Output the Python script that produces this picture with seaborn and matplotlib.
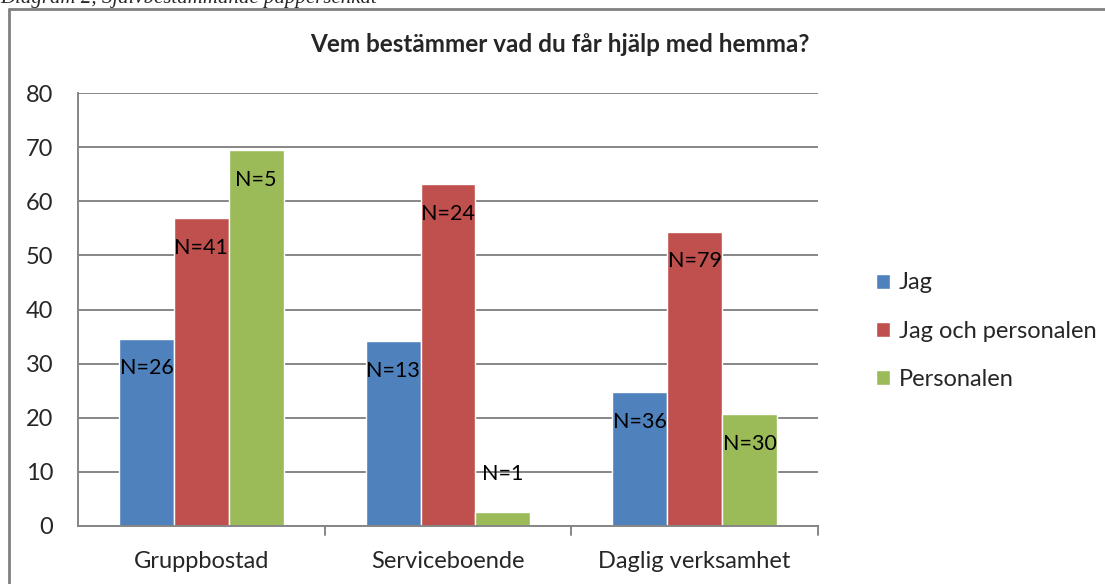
import numpy as np
import pandas as pd
import matplotlib
matplotlib.use("Agg")
import matplotlib.pyplot as plt
from matplotlib.lines import Line2D
import seaborn as sns

# data (percent)
boenden = ["Gruppbostad", "Serviceboende", "Daglig verksamhet"]
svar = ["Jag", "Jag och personalen", "Personalen"]
jag = [34.6, 34.2, 24.8]
jag_och_pers = [56.9, 63.1, 54.4]
personalen = [69.4, 2.6, 20.7]
antal = [["N=26", "N=13", "N=36"],
         ["N=41", "N=24", "N=79"],
         ["N=5", "N=1", "N=30"]]
farger = ["#4F81BD", "#C0504D", "#9BBB59"]

rows = []
for s, vals in zip(svar, [jag, jag_och_pers, personalen]):
    for b, v in zip(boenden, vals):
        rows.append({"boende": b, "svar": s, "procent": v})
df = pd.DataFrame(rows)

sns.set_style("white")
plt.rcParams['font.family'] = ['Lato', 'DejaVu Sans']

fig = plt.figure(figsize=(11.05, 5.84), dpi=100)
ax = fig.add_axes([78/1105, 1-526/584, 740/1105, 433/584])

sns.barplot(data=df, x="boende", y="procent", hue="svar", palette=farger,
            width=0.667, saturation=1, ax=ax, legend=True)

ax.set_ylim(0, 80)
ax.set_xlim(-0.5, 2.5)
ax.set_yticks(range(0, 81, 10))
ax.yaxis.grid(True, color="#868686", linewidth=1.4)
ax.set_axisbelow(True)
for side in ["top", "right"]:
    ax.spines[side].set_visible(False)
ax.spines["left"].set_color("#868686")
ax.spines["bottom"].set_color("#868686")
ax.spines["left"].set_linewidth(1.4)
ax.spines["bottom"].set_linewidth(1.4)
ax.set_xlabel("")
ax.set_ylabel("")
ax.tick_params(axis="y", length=5.8, width=1.4, color="#868686", labelsize=17, pad=12)
ax.tick_params(axis="x", length=0, labelsize=17, pad=18)
# category separator ticks
for xb in [0.5, 1.5, 2.5]:
    ax.plot([xb, xb], [0, -1.6], color="#868686", lw=1.4, clip_on=False)

# N labels
for cont, labs in zip(ax.containers, antal):
    for bar, lab in zip(cont, labs):
        h = bar.get_height()
        ly = h + 7 if h < 10 else h - 5.5
        ax.text(bar.get_x() + bar.get_width() / 2, ly, lab, ha="center", va="center",
                fontsize=15.5, color="black")

leg = ax.legend(loc="center left", bbox_to_anchor=(1.05, 0.45), frameon=False,
                fontsize=17, handlelength=0.6, handleheight=0.6,
                handletextpad=0.35, labelspacing=1.15)

fig.text(560/1105, 1-45/584, "Vem bestämmer vad du får hjälp med hemma?",
         ha="center", va="center", fontsize=17.5, fontweight="bold")

# clipped caption above the chart box
fig.text(0.0, 1-3/584, "Diagram 2, Självbestämmande pappersenkät", ha="left",
         va="baseline", fontsize=15, style="italic",
         family=["Liberation Serif", "DejaVu Serif"])

# chart frame
fig.add_artist(Line2D([9/1105, 9/1105], [0, 1-9/584], color="#808080", lw=2))
fig.add_artist(Line2D([9/1105, 1], [1-9/584, 1-9/584], color="#808080", lw=2))

fig.savefig("out.png", dpi=100)
